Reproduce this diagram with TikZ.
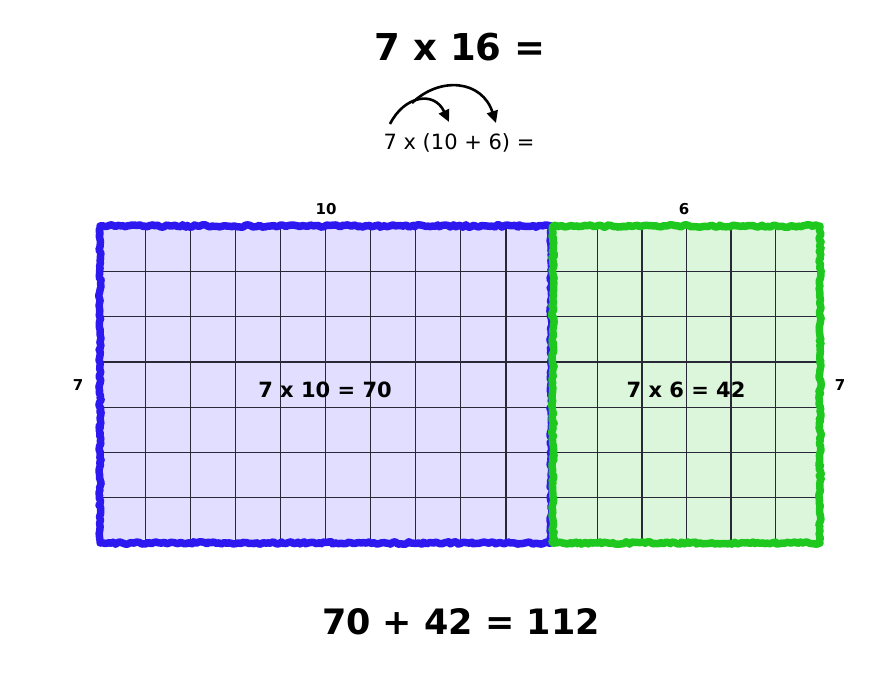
\documentclass[tikz,border=0pt]{standalone}
\usepackage{fontspec}
\setmainfont{DejaVu Sans}
\usetikzlibrary{decorations.pathmorphing,arrows.meta}
\definecolor{bluebd}{RGB}{45,25,240}
\definecolor{bluefill}{RGB}{226,222,255}
\definecolor{greenbd}{RGB}{30,200,30}
\definecolor{greenfill}{RGB}{220,246,220}
\definecolor{gridc}{RGB}{40,40,55}
\tikzset{
  rough/.style={decorate, decoration={random steps, segment length=2.5pt, amplitude=1.2pt}, line width=7.5pt, line join=round},
  gridln/.style={draw=gridc, line width=1.2pt},
  lbl/.style={font=\bfseries\fontsize{15}{15}\selectfont, inner sep=0pt},
  inlbl/.style={font=\bfseries\fontsize{21}{21}\selectfont, inner sep=0pt},
  arc/.style={line width=2.6pt, -{Triangle[length=12pt,width=11pt]}}
}
\begin{document}
\pgfmathsetseed{7}
\begin{tikzpicture}[x=1pt,y=-1pt]
\path[fill=white] (0,0) rectangle (896,677);
% blue region
\fill[bluefill] (100,226) rectangle (551,543);
\foreach \i in {1,...,9} \draw[gridln] ({100+45.1*\i},226) -- ({100+45.1*\i},543);
\foreach \j in {1,...,6} \draw[gridln] (100,{226+45.3*\j}) -- (551,{226+45.3*\j});
% green region
\fill[greenfill] (553,226) rectangle (820,543);
\foreach \i in {1,...,5} \draw[gridln] ({553+44.5*\i},226) -- ({553+44.5*\i},543);
\foreach \j in {1,...,6} \draw[gridln] (553,{226+45.3*\j}) -- (820,{226+45.3*\j});
\draw[rough, draw=bluebd] (100,226) -- (551,226) -- (551,543) -- (100,543) -- cycle;
\draw[rough, draw=greenbd] (553,226) -- (820,226) -- (820,543) -- (553,543) -- cycle;
% texts
\node[font=\bfseries\fontsize{37}{37}\selectfont, inner sep=0pt] (title) at (460,47) {7 x 16 =};
\node[font=\fontsize{21}{21}\selectfont, inner sep=0pt] (expand) at (459,143) {7 x (10 + 6) =};
\node[lbl] (ten) at (326,209) {10};
\node[lbl] (six) at (684,209) {6};
\node[lbl] (sevl) at (78,385) {7};
\node[lbl] (sevr) at (840,385) {7};
\node[inlbl] (bluelbl) at (325,390) {7 x 10 = 70};
\node[inlbl] (greenlbl) at (686,390) {7 x 6 = 42};
\node[font=\bfseries\fontsize{35}{35}\selectfont, inner sep=0pt] (sum) at (461,622) {70 + 42 = 112};
% arrows
\coordinate (a1s) at (390,124);
\coordinate (a1e) at (449,122);
\coordinate (a2s) at (412,103);
\coordinate (a2e) at (496,123);
\draw[arc] (a1s) .. controls (404,96) and (434,90) .. (a1e);
\draw[arc] (a2s) .. controls (440,76) and (482,80) .. (a2e);
\end{tikzpicture}
\end{document}
